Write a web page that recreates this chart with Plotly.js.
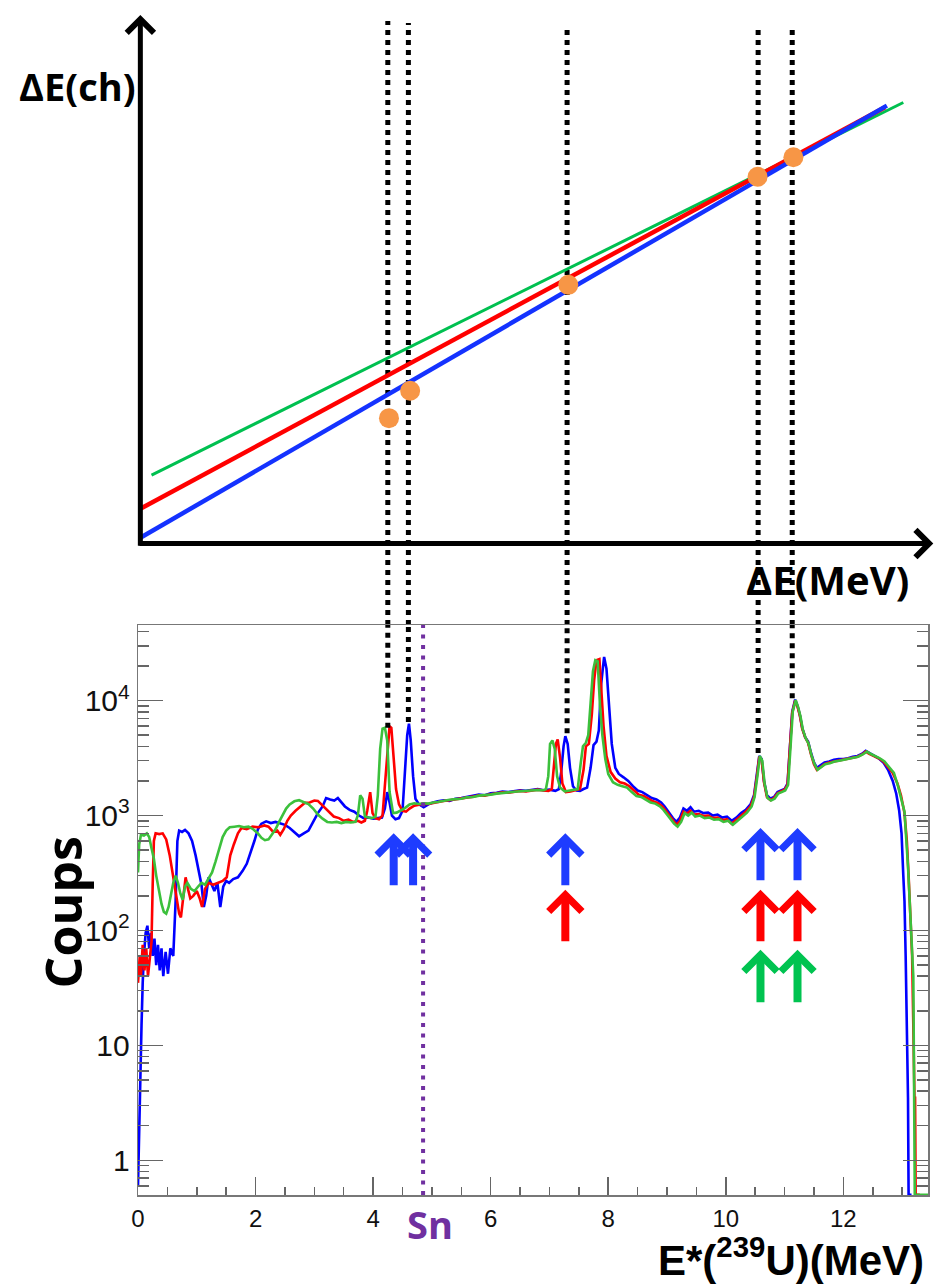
<!DOCTYPE html>
<html>
<head>
<meta charset="utf-8">
<script src="https://cdn.plot.ly/plotly-3.0.1.min.js"></script>
<style>
html,body{margin:0;padding:0;background:#fff;}
#chart{width:936px;height:1286px;}
</style>
</head>
<body>
<div id="chart"></div>
<script>
// ================= DATA =================
// Bottom panel: spectra, E*(239U) in MeV vs counts ("Coups")
const blueE = [0.00,0.02,0.04,0.06,0.08,0.10,0.13,0.16,0.19,0.22,0.25,0.28,0.31,0.34,0.37,0.40,0.43,0.47,0.51,0.55,
  0.60,0.64,0.67,0.70,0.75,0.80,0.86,0.92,0.98,1.03,1.08,1.12,1.16,1.20,1.25,1.30,1.35,1.40,1.45,1.50,
  1.55,1.62,1.70,1.78,1.85,1.92,1.98,2.04,2.10,2.18,2.26,2.34,2.42,2.50,2.58,2.66,2.74,2.82,2.90,2.98,
  3.06,3.14,3.20,3.27,3.34,3.40,3.46,3.52,3.60,3.68,3.76,3.84,3.92,4.00,4.08,4.15,4.20,4.24,4.28,4.32,
  4.38,4.44,4.50,4.54,4.58,4.61,4.64,4.68,4.72,4.78,4.86,4.94,5.02,5.10,5.20,5.30,5.40,5.50,5.60,5.70,
  5.80,5.90,6.00,6.10,6.20,6.30,6.40,6.50,6.60,6.70,6.80,6.90,7.00,7.10,7.16,7.20,7.24,7.27,7.31,7.35,
  7.40,7.46,7.52,7.58,7.64,7.70,7.75,7.80,7.84,7.88,7.93,7.97,8.01,8.06,8.12,8.18,8.26,8.34,8.42,8.50,
  8.58,8.66,8.74,8.82,8.90,8.96,9.02,9.10,9.16,9.22,9.28,9.34,9.40,9.46,9.54,9.62,9.70,9.78,9.86,9.94,
  10.02,10.10,10.18,10.26,10.34,10.42,10.48,10.53,10.57,10.61,10.65,10.70,10.76,10.82,10.88,10.94,11.00,11.05,11.09,11.13,
  11.18,11.22,11.26,11.30,11.35,11.40,11.45,11.50,11.55,11.60,11.68,11.76,11.84,11.92,12.00,12.08,12.16,12.24,12.32,12.38,
  12.44,12.52,12.60,12.68,12.76,12.84,12.90,12.95,12.99,13.02,13.04,13.06,13.08,13.09,13.10,13.11,13.16];
const blueCounts = [0.6,2,8,15,35,60,95,110,70,95,60,85,50,75,45,70,40,65,42,70,
  60,180,600,740,720,750,700,600,450,330,250,160,200,290,250,220,260,160,240,270,
  260,280,290,330,380,480,600,760,850,890,860,880,850,830,780,720,660,700,740,880,
  1050,1200,1420,1380,1350,1420,1300,1200,1120,1080,1000,950,960,940,950,960,1150,1600,1300,1000,
  930,950,1100,2200,5000,6300,4500,2200,1400,1250,1180,1250,1300,1330,1360,1340,1400,1420,1450,1480,
  1520,1500,1560,1580,1620,1600,1640,1660,1640,1680,1700,1660,1680,1640,1700,2400,4000,4900,4200,2600,
  1800,1650,1640,1700,1750,2600,4100,4400,5500,14000,24000,19000,9000,4200,2600,2300,2150,2000,1800,1650,
  1600,1500,1420,1380,1300,1200,1080,950,880,960,1150,1100,1180,1080,1100,1050,1060,1000,1020,960,
  980,900,960,1050,1120,1250,1500,2300,3300,3100,2000,1500,1400,1450,1600,1650,1700,1900,3600,8000,
  10200,9000,7500,5800,4800,4400,3500,2900,2600,2700,2900,2950,3050,3100,3100,3150,3250,3300,3450,3650,
  3500,3350,3150,2900,2500,2000,1550,1100,700,300,180,60,15,4,3.5,0.5,0.5];

const redE = [0.00,0.03,0.05,0.08,0.11,0.14,0.17,0.20,0.23,0.25,0.27,0.30,0.36,0.42,0.48,0.54,0.58,0.62,0.66,0.70,
  0.73,0.77,0.81,0.85,0.89,0.94,1.00,1.05,1.09,1.14,1.20,1.28,1.36,1.44,1.51,1.57,1.63,1.70,1.76,1.85,
  1.95,2.05,2.15,2.22,2.30,2.37,2.42,2.48,2.54,2.60,2.68,2.76,2.84,2.92,3.00,3.06,3.12,3.18,3.26,3.33,
  3.42,3.50,3.58,3.66,3.74,3.80,3.86,3.90,3.95,3.99,4.04,4.10,4.16,4.20,4.24,4.28,4.31,4.35,4.39,4.44,
  4.50,4.56,4.62,4.70,4.78,4.86,4.94,5.02,5.10,5.20,5.30,5.40,5.50,5.60,5.70,5.80,5.90,6.00,6.10,6.20,
  6.30,6.40,6.50,6.60,6.70,6.80,6.90,6.98,7.04,7.08,7.11,7.14,7.18,7.22,7.28,7.36,7.44,7.52,7.58,7.62,
  7.67,7.72,7.76,7.80,7.85,7.88,7.92,7.97,8.04,8.12,8.20,8.28,8.36,8.44,8.52,8.60,8.68,8.76,8.84,8.92,
  8.98,9.04,9.10,9.16,9.22,9.28,9.34,9.40,9.46,9.54,9.62,9.70,9.78,9.86,9.94,10.02,10.10,10.18,10.26,10.34,
  10.42,10.48,10.53,10.57,10.61,10.65,10.70,10.76,10.82,10.88,10.94,11.00,11.05,11.09,11.13,11.18,11.22,11.26,11.30,11.35,
  11.40,11.45,11.50,11.55,11.60,11.68,11.76,11.84,11.92,12.00,12.08,12.16,12.24,12.32,12.38,12.44,12.52,12.60,12.68,12.76,
  12.84,12.92,12.98,13.04,13.08,13.11,13.14,13.17,13.19,13.20,13.21,13.22,13.23,13.30];
const redCounts = [35,60,40,75,45,70,40,60,80,250,600,700,690,700,620,450,330,240,180,140,
  130,200,290,230,190,200,220,190,160,230,260,250,260,270,290,450,560,700,780,760,
  800,790,820,800,720,740,680,760,900,1000,1100,1200,1290,1300,1350,1340,1250,1150,1050,980,
  950,900,920,880,900,870,900,1100,1600,1050,950,930,1000,1800,3500,6000,5800,3200,1700,1250,
  1100,1080,1150,1220,1250,1270,1260,1290,1320,1340,1360,1380,1410,1430,1460,1500,1490,1530,1560,1590,
  1580,1620,1640,1620,1660,1680,1650,1640,1700,2800,4200,4600,3200,1900,1600,1620,1650,1700,2500,4000,
  4200,7500,15000,22500,23000,14000,6000,3300,2400,2100,1950,1900,1800,1650,1520,1480,1400,1330,1290,1200,
  1100,1000,900,830,900,1080,1040,1100,1020,1030,990,1000,950,960,910,930,850,920,1000,1080,
  1200,1450,2200,3250,3050,1950,1450,1360,1420,1560,1620,1680,1850,3500,7800,10000,8900,7400,5700,4800,
  4300,3400,2800,2500,2600,2800,2900,2950,3000,3050,3100,3200,3250,3400,3600,3450,3300,3150,2950,2650,
  2350,1900,1500,1050,600,300,150,60,15,5,3.5,3.5,0.5,0.5];

const greenE = [0.00,0.02,0.05,0.10,0.15,0.19,0.23,0.27,0.31,0.36,0.40,0.44,0.48,0.52,0.56,0.60,0.64,0.68,0.72,0.76,
  0.80,0.84,0.90,0.96,1.02,1.08,1.14,1.20,1.26,1.32,1.38,1.44,1.50,1.56,1.64,1.72,1.80,1.88,1.96,2.04,
  2.10,2.16,2.22,2.28,2.34,2.40,2.46,2.52,2.58,2.66,2.74,2.82,2.90,2.98,3.06,3.14,3.22,3.30,3.38,3.46,
  3.54,3.62,3.70,3.74,3.78,3.82,3.86,3.92,3.98,4.04,4.08,4.12,4.16,4.20,4.24,4.28,4.34,4.40,4.46,4.54,
  4.62,4.70,4.78,4.86,4.94,5.02,5.10,5.20,5.30,5.40,5.50,5.60,5.70,5.80,5.90,6.00,6.10,6.20,6.30,6.40,
  6.50,6.60,6.70,6.80,6.90,6.94,6.98,7.01,7.05,7.09,7.13,7.18,7.26,7.34,7.42,7.48,7.53,7.57,7.62,7.66,
  7.70,7.74,7.78,7.82,7.86,7.90,7.95,8.00,8.08,8.16,8.24,8.32,8.40,8.48,8.56,8.64,8.72,8.80,8.88,8.94,
  9.00,9.06,9.12,9.18,9.24,9.30,9.36,9.42,9.48,9.56,9.64,9.72,9.80,9.88,9.96,10.04,10.12,10.20,10.28,10.36,
  10.44,10.49,10.54,10.58,10.62,10.66,10.71,10.77,10.83,10.89,10.95,11.01,11.06,11.10,11.14,11.19,11.23,11.27,11.31,11.36,
  11.41,11.46,11.51,11.56,11.61,11.69,11.77,11.85,11.93,12.01,12.09,12.17,12.25,12.33,12.40,12.46,12.54,12.62,12.70,12.78,
  12.86,12.93,12.99,13.04,13.10,13.16,13.19,13.20,13.21,13.215,13.44];
const greenCounts = [320,560,680,670,700,650,520,420,300,220,170,145,140,160,210,260,300,260,210,185,
  240,260,230,220,240,260,250,280,320,400,520,650,740,790,800,810,790,800,760,700,
  640,610,620,680,760,880,1000,1150,1250,1330,1360,1300,1260,1150,1020,940,880,870,880,860,
  880,870,880,1000,1500,1400,980,960,950,980,1500,3800,5700,5800,4500,1600,1050,1060,1100,1160,
  1250,1280,1260,1280,1270,1300,1310,1350,1370,1390,1400,1440,1450,1490,1500,1520,1550,1580,1590,1610,
  1630,1640,1650,1670,1660,1700,2200,4200,4500,3800,2200,1750,1620,1640,1660,1700,2800,4000,4300,5000,
  9500,18000,22500,22000,9000,5000,3100,2300,1950,1850,1800,1750,1600,1480,1450,1380,1300,1270,1200,1120,
  1020,930,850,800,880,1050,1000,1060,980,1000,950,960,920,930,880,900,830,900,980,1060,
  1200,1450,2250,3300,3000,1900,1420,1350,1400,1550,1600,1650,1850,3600,8100,10100,8800,7300,5600,4700,
  4200,3300,2800,2500,2600,2800,2850,2950,3000,3050,3100,3200,3250,3400,3600,3450,3300,3150,2950,2650,
  2350,1800,1400,1080,360,95,40,8,2,0.5,0.5];

// Neutron separation energy Sn (MeV)
const snEnergy = 4.85;

// Guide lines: energies of the calibration peaks and the peak heights they stop at
const guideE = [4.25, 4.60, 7.30, 10.55, 11.13];
const guidePeak = [5800, 6500, 5200, 3500, 10500];
const guideTopPaper = [0.9949, 0.9932, 0.9898, 0.9873, 0.9915];

// Arrows marking the peaks used for each spectrum
const blueArrowE = [4.35, 4.68, 7.27, 10.59, 11.22];
const blueArrowTip = [700, 700, 700, 780, 780];
const blueArrowTail = [240, 240, 240, 265, 265];
const redArrowE = [7.27, 10.59, 11.22];
const redArrowTip = [226, 226, 226];
const redArrowTail = [78, 78, 78];
const greenArrowE = [10.59, 11.22];
const greenArrowTip = [68, 68];
const greenArrowTail = [23, 23];

// Top panel: calibration lines dE(ch) vs dE(MeV) (arbitrary channel units)
const calibBlueE = [0.04, 12.74], calibBlueCh = [0.8, 82.8];
const calibRedE = [0.04, 12.71], calibRedCh = [6.3, 82.5];
const calibGreenE = [0.23, 13.02], calibGreenCh = [12.7, 83.4];
const calibPointE = [4.27, 4.63, 7.32, 10.54, 11.15];
const calibPointCh = [23.5, 28.7, 48.8, 69.3, 73.0];

// ================= LAYOUT CONSTANTS =================
const BOTTOM_DOMAIN = [0, 0.48305];
const TOP_DOMAIN = [0.54446, 1];
const X_RANGE = [0, 13.44];
const Y_LOG_RANGE = [-0.302, 4.658];
const TOP_RANGE = [-2, 100];

const C_BLUE = '#0000FF', C_RED = '#FF0000', C_GREEN = '#3CC03C';
const C_BLUE_L = '#1432FF', C_GREEN_L = '#00C050';
const C_ARROW_BLUE = '#1E3CFF', C_ARROW_GREEN = '#00C350';
const C_PURPLE = '#7030A0', C_ORANGE = '#F79646';
const LABEL_FONT = 'Open Sans, Noto Sans, sans-serif';
const AXIS_TITLE_FONT = 'Liberation Sans, Arial, sans-serif';
const TICK_FONT = 'Liberation Sans, Arial, sans-serif';

// ================= TRACES =================
const guideX = [], guideY = [];
guideE.forEach((e, i) => { guideX.push(e, e, null); guideY.push(guidePeak[i], 1e7, null); });

const traces = [
  {x: blueE, y: blueCounts, xaxis: 'x', yaxis: 'y', mode: 'lines', line: {color: C_BLUE, width: 2.6}},
  {x: redE, y: redCounts, xaxis: 'x', yaxis: 'y', mode: 'lines', line: {color: C_RED, width: 2.6}},
  {x: greenE, y: greenCounts, xaxis: 'x', yaxis: 'y', mode: 'lines', line: {color: C_GREEN, width: 2.6}},
  {x: guideX, y: guideY, xaxis: 'x', yaxis: 'y', mode: 'lines', connectgaps: false,
   line: {color: '#000', width: 5, dash: '5px,5px'}},
  {x: calibGreenE, y: calibGreenCh, xaxis: 'x', yaxis: 'y2', mode: 'lines', line: {color: C_GREEN_L, width: 3}},
  {x: calibRedE, y: calibRedCh, xaxis: 'x', yaxis: 'y2', mode: 'lines', line: {color: C_RED, width: 4.5}},
  {x: calibBlueE, y: calibBlueCh, xaxis: 'x', yaxis: 'y2', mode: 'lines', line: {color: C_BLUE_L, width: 4.5}},
  {x: calibPointE, y: calibPointCh, xaxis: 'x', yaxis: 'y2', mode: 'markers', marker: {size: 20, color: C_ORANGE}}
];

// ================= SHAPES =================
const shapes = [];
guideE.forEach((e, i) => {
  shapes.push({type: 'line', xref: 'x', yref: 'paper', x0: e, x1: e,
    y0: BOTTOM_DOMAIN[1], y1: guideTopPaper[i], layer: 'below',
    line: {color: '#000', width: 5, dash: '5px,5px'}});
});
shapes.push({type: 'line', xref: 'x', yref: 'y domain', x0: snEnergy, x1: snEnergy, y0: 0, y1: 1,
  layer: 'above', line: {color: C_PURPLE, width: 4, dash: '4px,6.5px'}});

// ================= ANNOTATIONS =================
const annotations = [];
function addArrows(es, tips, tails, color) {
  es.forEach((e, i) => {
    annotations.push({xref: 'x', yref: 'y', axref: 'x', ayref: 'y', x: e, ax: e,
      y: Math.log10(tips[i]), ay: Math.log10(tails[i]), text: '', showarrow: true,
      arrowhead: 4, arrowwidth: 8, arrowsize: 0.8, arrowcolor: color});
  });
}
addArrows(blueArrowE, blueArrowTip, blueArrowTail, C_ARROW_BLUE);
addArrows(redArrowE, redArrowTip, redArrowTail, C_RED);
addArrows(greenArrowE, greenArrowTip, greenArrowTail, C_ARROW_GREEN);

// axes of the top sketch (arrows)
annotations.push({xref: 'x', yref: 'y2', axref: 'x', ayref: 'y2', x: 0.04, y: 100, ax: 0.04, ay: -1.0,
  text: '', showarrow: true, arrowhead: 4, arrowwidth: 5, arrowsize: 1.05, arrowcolor: '#000'});
annotations.push({xref: 'x', yref: 'y2', axref: 'x', ayref: 'y2', x: 13.53, y: -0.3, ax: 0.0, ay: -0.3,
  text: '', showarrow: true, arrowhead: 4, arrowwidth: 5, arrowsize: 1.05, arrowcolor: '#000'});

// text labels
annotations.push({xref: 'paper', yref: 'paper', x: 0.0004, y: 0.9398, xanchor: 'right', yanchor: 'middle',
  text: 'ΔE(ch)', showarrow: false, font: {family: LABEL_FONT, size: 38, color: '#000', weight: 700}});
annotations.push({xref: 'paper', yref: 'paper', x: 0.8722, y: 0.5212, xanchor: 'center', yanchor: 'middle',
  text: 'ΔE(MeV)', showarrow: false, font: {family: LABEL_FONT, size: 40, color: '#000', weight: 700}});
annotations.push({xref: 'paper', yref: 'paper', x: -0.0945, y: 0.2398, xanchor: 'center', yanchor: 'middle',
  text: 'Coups', textangle: -90, showarrow: false, font: {family: LABEL_FONT, size: 50, color: '#000', weight: 700}});
annotations.push({xref: 'paper', yref: 'paper', x: 0.3699, y: -0.0246, xanchor: 'center', yanchor: 'middle',
  text: 'Sn', showarrow: false, font: {family: LABEL_FONT, size: 38, color: C_PURPLE, weight: 700}});
annotations.push({xref: 'paper', yref: 'paper', x: 0.9975, y: -0.0770, xanchor: 'right', yanchor: 'bottom',
  text: 'E*(<sup>239</sup>U)(MeV)', showarrow: false, font: {family: AXIS_TITLE_FONT, size: 42, color: '#000', weight: 700}});

// ================= LAYOUT =================
const layout = {
  width: 936, height: 1286,
  margin: {l: 137.7, r: 8, t: 15, b: 91, pad: 0},
  paper_bgcolor: '#fff', plot_bgcolor: 'rgba(0,0,0,0)',
  showlegend: false, hovermode: false,
  xaxis: {
    domain: [0, 1], range: X_RANGE, anchor: 'y',
    showline: true, linecolor: '#777', linewidth: 1.5, mirror: true,
    ticks: 'inside', ticklen: 18, tickwidth: 1.5, tickcolor: '#666',
    tick0: 0, dtick: 2,
    minor: {ticks: 'inside', ticklen: 8, tickwidth: 1.5, tickcolor: '#666', dtick: 0.5, showgrid: false},
    showgrid: false, zeroline: false,
    tickfont: {family: TICK_FONT, size: 24, color: '#111'}, ticklabelstandoff: 2
  },
  yaxis: {
    domain: BOTTOM_DOMAIN, type: 'log', range: Y_LOG_RANGE, anchor: 'x',
    showline: true, linecolor: '#777', linewidth: 1.5, mirror: 'ticks',
    ticks: 'inside', ticklen: 25, tickwidth: 1.5, tickcolor: '#666',
    dtick: 1, exponentformat: 'power',
    minor: {ticks: 'inside', ticklen: 11, tickwidth: 1.5, tickcolor: '#666', dtick: 'D1', showgrid: false},
    showgrid: false, zeroline: false,
    tickfont: {family: TICK_FONT, size: 24, color: '#111'}, ticklabelstandoff: 2
  },
  yaxis2: {
    domain: TOP_DOMAIN, range: TOP_RANGE, anchor: 'x', visible: false,
    showgrid: false, zeroline: false
  },
  shapes: shapes,
  annotations: annotations
};

Plotly.newPlot('chart', traces, layout, {staticPlot: true, displayModeBar: false});
</script>
</body>
</html>
